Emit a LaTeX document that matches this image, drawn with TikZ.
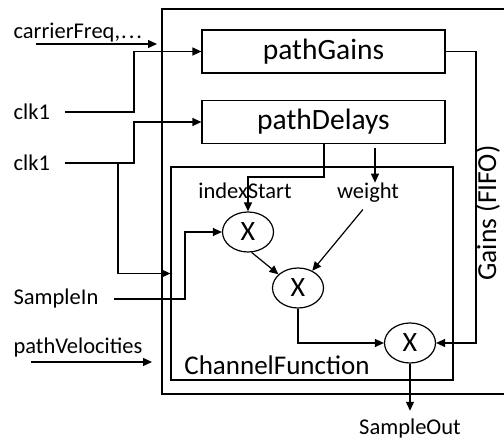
\documentclass[tikz,border=0pt]{standalone}
\usepackage{fontspec}
\setmainfont{Carlito}
\usepackage{tikz}
\usetikzlibrary{arrows.meta, shapes.geometric, positioning}

\begin{document}
\begin{tikzpicture}[x=1pt, y=-1pt, line width=1.2pt,
  >={Triangle[length=9pt, width=8pt]},
  block/.style={draw, rectangle, inner sep=0pt, minimum width=243pt, minimum height=43pt, font=\fontsize{29.5}{31}\selectfont},
  mult/.style={draw, ellipse, inner sep=0pt, minimum width=51pt, minimum height=40pt, font=\fontsize{28}{30}\selectfont},
  label/.style={inner sep=0pt, font=\fontsize{22.5}{24}\selectfont},
  inlabel/.style={label, anchor=west}
]
\useasboundingbox (0,0) rectangle (504,443);

%------------- outer block
	\coordinate (O1) at (162, 9);
	\coordinate (O2) at (530, 394);
	\draw (O1) rectangle (O2);

	\node[block] (pathGains) at (323.5, 51.5) {pathGains};
	\node[block] (pathDelays) at (323.5, 122) {pathDelays};

	\node[rotate=90, inner sep=0pt, font=\fontsize{27.5}{29}\selectfont] (fifo) at (488, 213) {Gains (FIFO)};

%------------- channel function
	\node[draw, rectangle, inner sep=0pt, minimum width=282pt, minimum height=213pt] (CF) at (312, 273.5) {};
	\node[inner sep=0pt, font=\fontsize{27}{29}\selectfont] (CF_Title) at (277, 365) {ChannelFunction};

	\node[mult] (X1) at (248, 232) {X};
	\node[mult] (X2) at (298, 288) {X};
	\node[mult] (X3) at (410, 343) {X};

	\node[label] (indexStart) at (245, 191) {indexStart};
	\node[label] (weight) at (368, 193) {weight};

%------------- inputs
	\node[inlabel] (carrier) at (13, 33) {carrierFreq,\kern1pt.\kern2pt.\kern2pt.};
	\node[inlabel] (clkA) at (13, 112) {clk1};
	\node[inlabel] (clkB) at (13, 163) {clk1};
	\node[inlabel] (sampleIn) at (13, 299) {SampleIn};
	\node[inlabel] (velocities) at (13, 348) {pathVelocities};
	\node[label] (sampleOut) at (410, 429) {SampleOut};

	\coordinate (carrier_Start) at (36, 44);
	\coordinate (carrier_End) at (157, 44);
	\draw[->] (carrier_Start) -- (carrier_End);

	\coordinate (velocities_Start) at (31, 362);
	\coordinate (velocities_End) at (152, 362);
	\draw[->] (velocities_Start) -- (velocities_End);

	\coordinate (clkA_Turn) at (134, 112);
	\draw[->, shorten <=14pt] (clkA.east) -- (clkA_Turn) |- (pathGains.west);

	\coordinate (clkB_Turn) at (134, 163);
	\coordinate (clkB_Split) at (118, 163);
	\draw[->, shorten <=14pt] (clkB.east) -- (clkB_Turn) |- (pathDelays.west);
	\draw[->] (clkB_Split) |- (CF.west);

	\coordinate (sampleIn_Turn) at (185, 299);
	\draw[->, shorten <=15pt] (sampleIn.east) -- (sampleIn_Turn) |- (X1.west);

%------------- inside
	\coordinate (delays_Out) at (324, 144);
	\coordinate (delays_Turn) at (324, 177);
	\draw[->] (delays_Out) -- (delays_Turn) -| (X1.north);

	\coordinate (weight_In) at (375, 148);
	\draw[->] (weight_In) -- (weight_In |- weight.north);
	\draw[->, shorten <=8pt] (weight.south) -- (X2);

	\draw[->] (X1.-80) -- (X2.145);
	\draw[->] (X2.south) |- (X3.west);

	\coordinate (gains_Turn) at (476, 51.5);
	\draw[->] (pathGains.east) -- (gains_Turn) |- (X3.east);

	\draw[->, shorten >=8pt] (X3.south) -- (sampleOut.north);

\end{tikzpicture}
\end{document}
